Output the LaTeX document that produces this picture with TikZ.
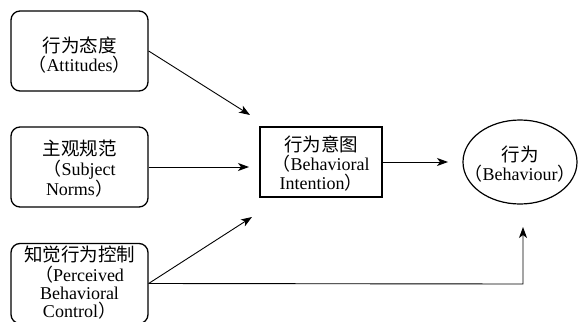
\documentclass[tikz,border=0pt]{standalone}
\usepackage{fontspec}
\setmainfont{Liberation Serif}
\newfontfamily\cjk{Noto Sans CJK SC}
\usetikzlibrary{arrows.meta,shapes.geometric}

% Chinese heading line and full-width brackets
\newcommand{\zh}[1]{{\cjk\fontsize{18.5}{18.5}\selectfont #1}}
\newcommand{\lp}{{\cjk\fontsize{18}{18.5}\selectfont （}}
\newcommand{\rp}{{\cjk\fontsize{18}{18.5}\selectfont ）}}

\begin{document}
\begin{tikzpicture}[x=1pt,y=-1pt,
  roundbox/.style={draw, line width=1.3pt, rounded corners=9pt,
    minimum width=137pt, inner sep=0pt},
  sharpbox/.style={draw, line width=1.2pt, minimum width=122pt,
    minimum height=70pt, inner sep=0pt},
  oval/.style={draw, ellipse, line width=1.2pt, minimum width=114pt,
    minimum height=84pt, inner sep=0pt},
  lbl/.style={font=\fontsize{18}{18.5}\selectfont, align=center, inner sep=0pt},
  arr/.style={line width=0.9pt, -{Stealth[length=11pt,width=8pt,inset=3pt]}}
]
\useasboundingbox (0,0) rectangle (580,321);
\clip (0,0) rectangle (580,321);

% determinant boxes
\node[roundbox, minimum height=80pt] (att) at (79.5,51) {};
\node[roundbox, minimum height=80pt] (sn) at (79.5,167) {};
\node[roundbox, minimum height=80pt] (pbc) at (79.5,283.5) {};

% intention and behaviour
\node[sharpbox] (bi) at (321,162) {};
\node[oval] (beh) at (520,162) {};

% texts
\node[lbl] (attT) at (79.5,55.5) {\zh{行为态度}\\[0.5pt]\lp Attitudes\rp};
\node[lbl] (snT) at (79.5,168.5) {\zh{主观规范}\\[1pt]\lp Subject\\Norms\rp};
\node[lbl, font=\fontsize{18}{18}\selectfont] (pbcT) at (79.5,282.5)
  {\zh{知觉行为控制}\\[1.5pt]\lp Perceived\\Behavioral\\Control\rp};
\node[lbl] (biT) at (321,163.5) {\zh{行为意图}\\[1pt]\lp Behavioral\\Intention\rp};
\node[lbl] (behT) at (520,164) {\zh{行为}\\[1pt]\lp Behaviour\rp};

% arrow tips and the corner of the control path
\coordinate (tipA) at (250,115);
\coordinate (tipS) at (249,167);
\coordinate (tipP) at (252,217);
\coordinate (tipB) at (448,162);
\coordinate (corner) at (523,284);
\coordinate (tipC) at (523,227);

\draw[arr] (att.east) -- (tipA);
\draw[arr] (sn.east) -- (tipS);
\draw[arr] (pbc.east) -- (tipP);
\draw[arr] (bi.east) -- (tipB);
\draw[arr] (pbc.east) -- (corner) -- (tipC);
\end{tikzpicture}
\end{document}
